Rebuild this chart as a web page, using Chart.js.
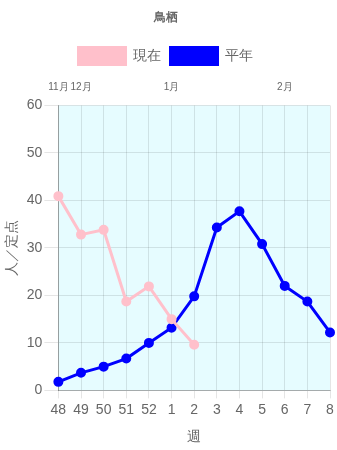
<!DOCTYPE html>
<html>
<head>
<meta charset="utf-8">
<script src="https://cdn.jsdelivr.net/npm/chart.js@4.4.0/dist/chart.umd.min.js"></script>
<style>
  html, body { margin: 0; padding: 0; background: #fff; }
  #wrap { width: 337px; height: 450px; }
</style>
</head>
<body>
<div id="wrap"><canvas id="chart"></canvas></div>
<script>
// ======================
// DATOS
// ======================
const weeks = ['48', '49', '50', '51', '52', '1', '2', '3', '4', '5', '6', '7', '8'];
const months = ['11月', '12月', '', '', '', '1月', '', '', '', '', '2月', '', ''];
const current = [40.9, 32.8, 33.8, 18.7, 21.9, 15.0, 9.6, null, null, null, null, null, null];
const normal = [1.8, 3.7, 5.0, 6.7, 10.0, 13.2, 19.8, 34.3, 37.7, 30.8, 22.0, 18.7, 12.2];
const yTicks = [0, 10, 20, 30, 40, 50, 60];

Chart.defaults.color = '#666';

// fondo del área del gráfico
const areaBg = {
  id: 'areaBg',
  beforeDraw(chart) {
    const { ctx, chartArea: a } = chart;
    ctx.save();
    ctx.fillStyle = '#e6fcff';
    ctx.fillRect(a.left, a.top, a.right - a.left, a.bottom - a.top);
    ctx.restore();
  }
};

new Chart(document.getElementById('chart').getContext('2d'), {
  type: 'line',
  data: {
    labels: weeks,
    datasets: [
      {
        label: '現在',
        data: current,
        borderColor: 'pink',
        backgroundColor: 'pink',
        borderWidth: 3,
        pointRadius: 3.5,
        fill: false,
        tension: 0
      },
      {
        label: '平年',
        data: normal,
        borderColor: 'blue',
        backgroundColor: 'blue',
        borderWidth: 3,
        pointRadius: 3.5,
        fill: false,
        tension: 0
      }
    ]
  },
  options: {
    responsive: true,
    maintainAspectRatio: false,
    animation: false,
    layout: { padding: { left: 0, right: 6, bottom: 0 } },
    plugins: {
      title: {
        display: true,
        text: '鳥栖',
        font: { size: 12, weight: 'bold' },
        padding: { top: 10, bottom: 13 }
      },
      legend: {
        position: 'top',
        labels: { boxWidth: 47, boxHeight: 17, font: { size: 14 }, padding: 10 }
      },
      tooltip: { enabled: false }
    },
    scales: {
      x: {
        position: 'bottom',
        grid: { color: 'rgba(0,0,0,0.1)', tickLength: 8 },
        border: { color: 'rgba(0,0,0,0.25)' },
        ticks: { font: { size: 14 }, maxRotation: 0, autoSkip: false },
        title: { display: true, text: '週', font: { size: 14 }, padding: { top: 8, bottom: 4 } }
      },
      xTop: {
        type: 'category',
        labels: months,
        position: 'top',
        grid: { display: false },
        border: { display: false },
        ticks: { font: { size: 10 }, maxRotation: 0, autoSkip: false, padding: 4 },
        afterFit(axis) { axis.height += 3; }
      },
      y: {
        min: 0,
        max: 60,
        grid: { color: 'rgba(0,0,0,0.1)', tickLength: 14 },
        border: { color: 'rgba(0,0,0,0.3)' },
        afterBuildTicks(axis) { axis.ticks = yTicks.map(v => ({ value: v })); },
        ticks: { font: { size: 14 }, padding: 2 },
        title: { display: true, text: '人／定点', font: { size: 14 } }
      }
    }
  },
  plugins: [areaBg]
});
</script>
</body>
</html>
